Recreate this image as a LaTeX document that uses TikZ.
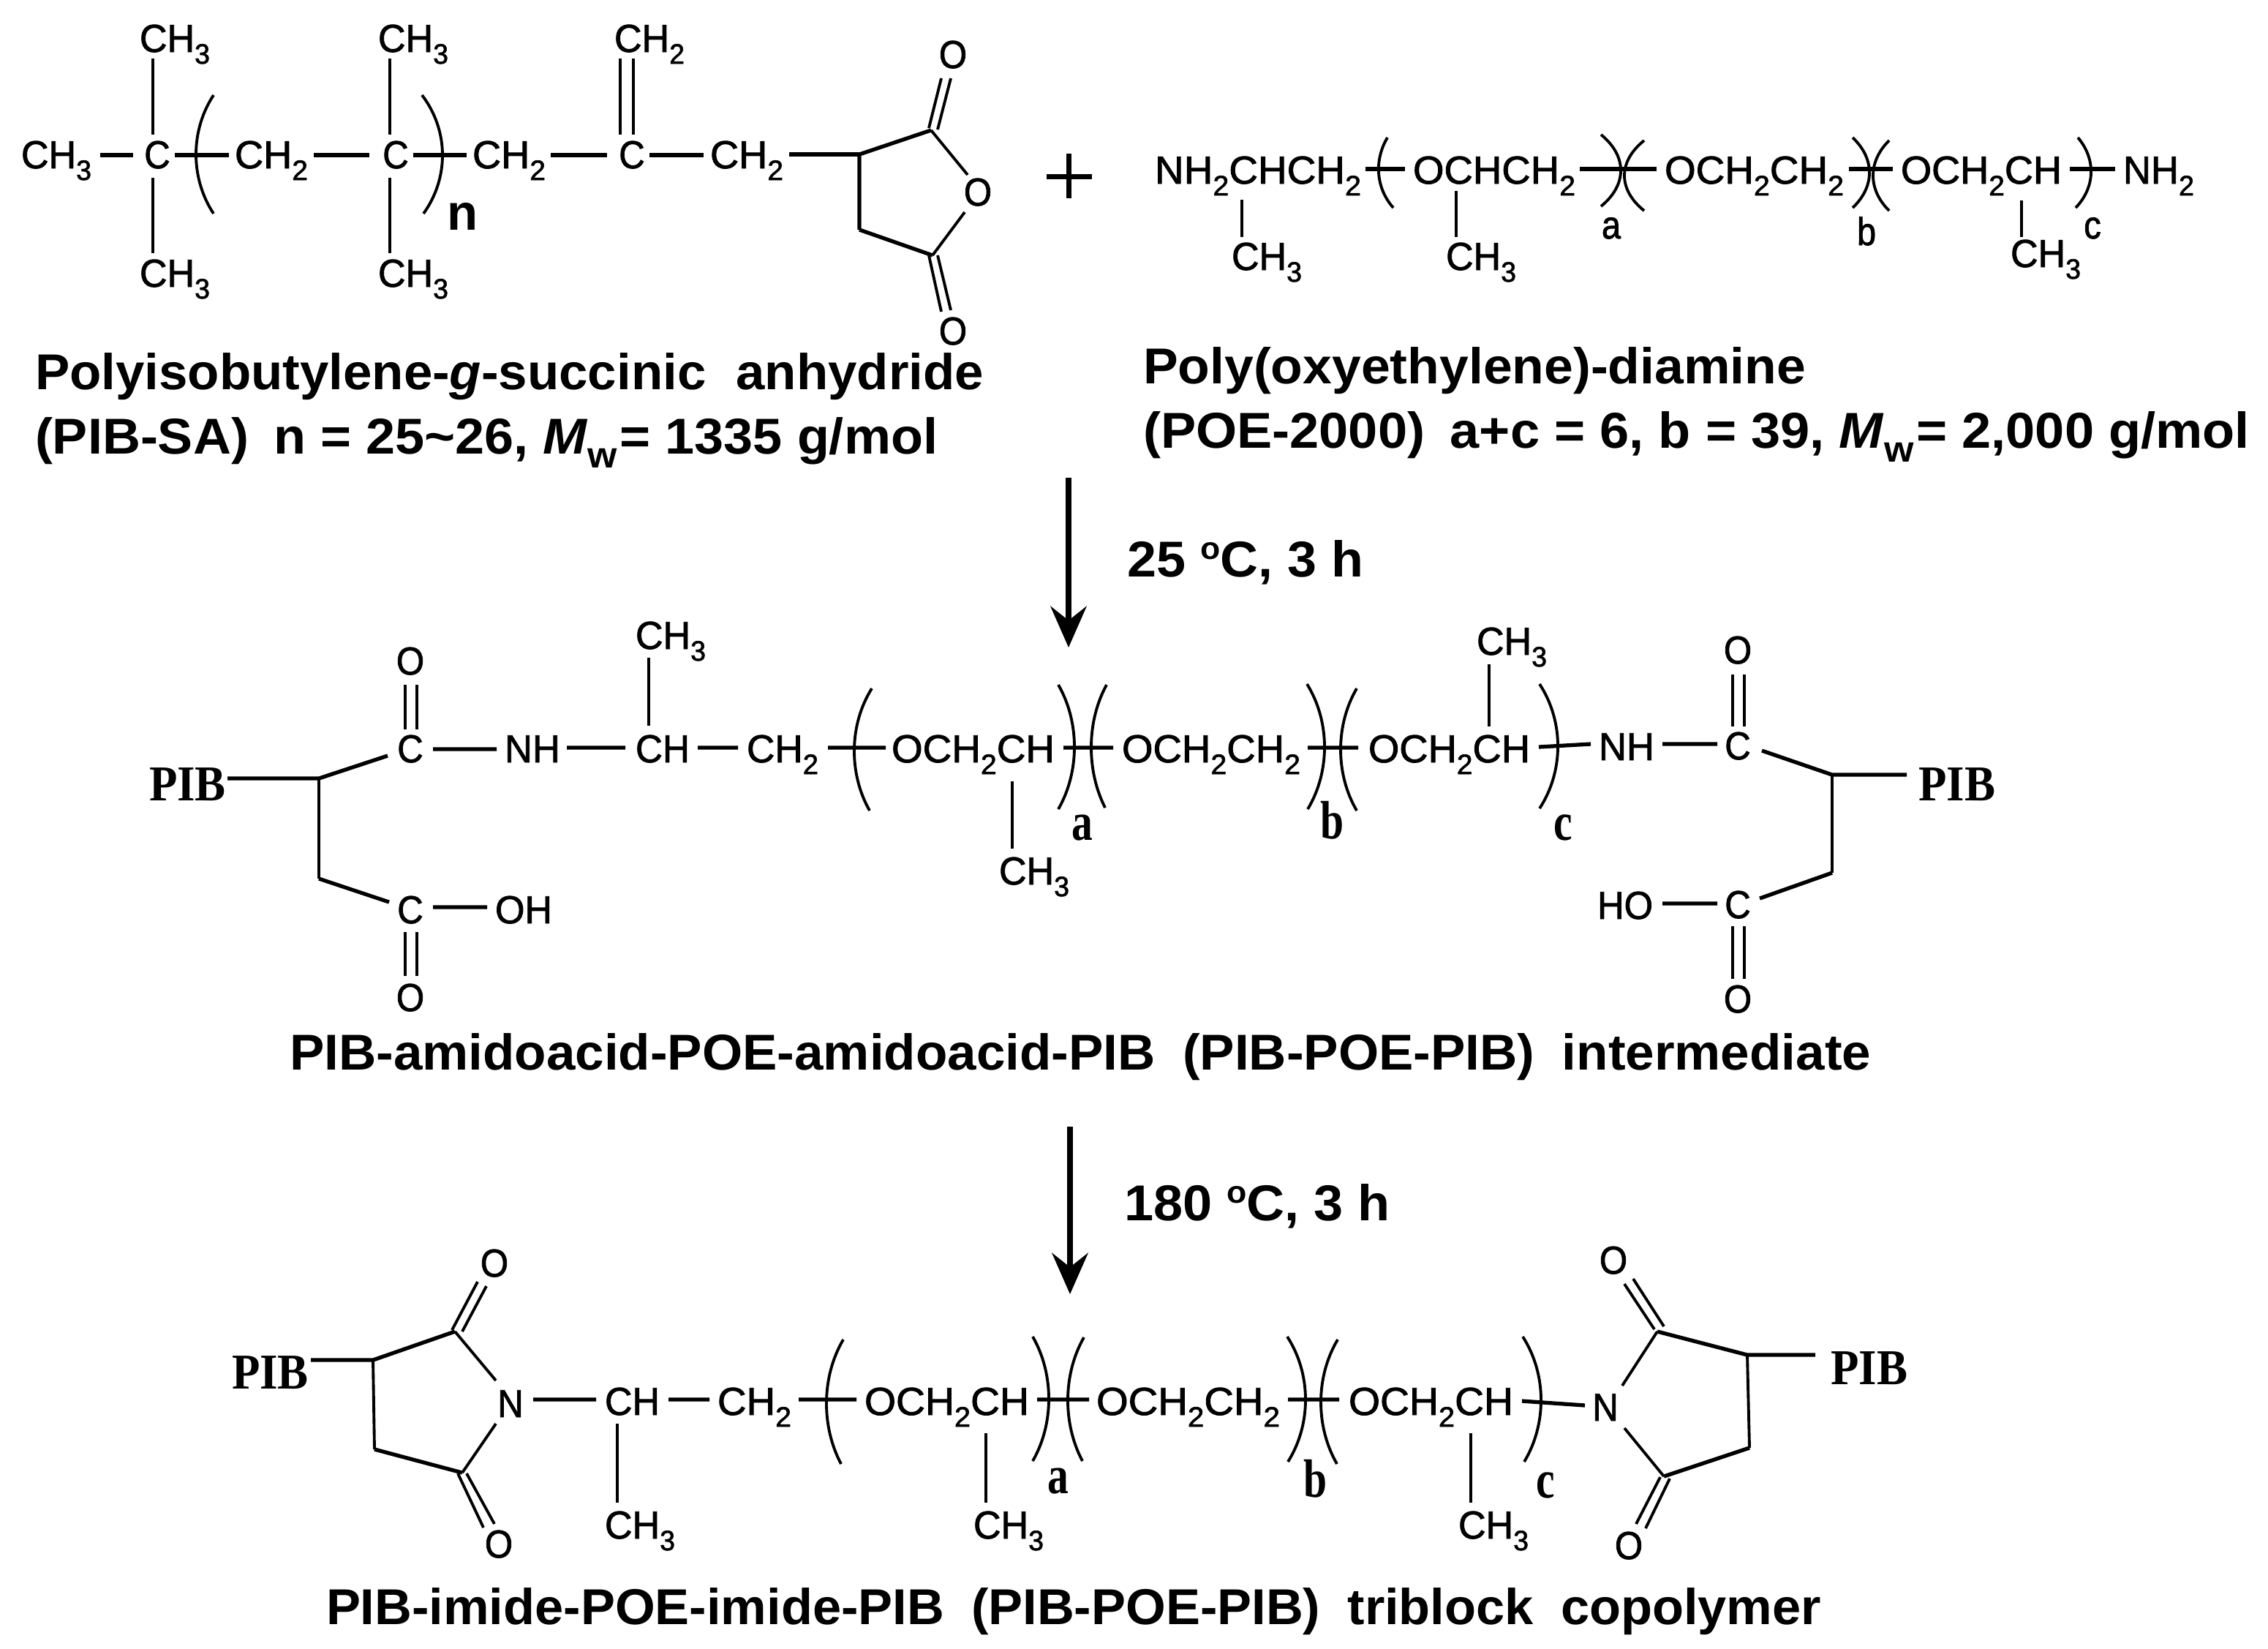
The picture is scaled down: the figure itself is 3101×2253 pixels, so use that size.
\documentclass[tikz,border=0pt]{standalone}
\usepackage{fontspec}
\usepackage{graphicx}
\usetikzlibrary{arrows.meta}
\setmainfont{Liberation Sans}
\newfontface\chemface{Liberation Sans}[FakeBold=1.6]
\newfontface\serifface{Liberation Serif Bold}
\newdimen\pxu \pxu=0.01cm
\newcommand\sbs[1]{\raisebox{-0.3em}{\scalebox{0.72}{#1}}}
\newcommand\Mw{\textit{M}\raisebox{-0.28em}{\scalebox{0.72}{w}}}
\newcommand\degc{\raisebox{0.34em}{\scalebox{0.62}{o}}C}
% fitted text: name, left x, baseline y, width, text
\newcommand\T[5]{\node[chem,anchor=base west] (#1) at (#2,#3) {\resizebox{#4\pxu}{\height}{#5}};}
\newcommand\Cp[5]{\node[capt,anchor=base west] (#1) at (#2,#3) {\resizebox{#4\pxu}{\height}{#5}};}
% centred text: name, centre x, baseline y, text
\newcommand\A[4]{\node[chem,anchor=base] (#1) at (#2,#3) {\scalebox{0.92}[1]{#4}};}
\newcommand\Me[3]{\T{#1}{#2}{#3}{96}{CH\sbs{3}}}
\newcommand\Pb[3]{\node[serifb,anchor=base west] (#1) at (#2,#3) {\resizebox{105\pxu}{\height}{PIB}};}
\newcommand\Sl[4]{\node[serifl,anchor=base] (#1) at (#2,#3) {\scalebox{0.78}[1]{#4}};}
\newcommand\Sn[4]{\node[chem,anchor=base] (#1) at (#2,#3) {\scalebox{0.88}[1]{#4}};}
% bracket: x1 y1 x2 y2 bulge-x
\newcommand\Br[5]{\draw[brk] (#1,#2) .. controls ({#5+(#5-#1+#5-#3)/6},{#2+(#4-#2)*0.3}) and ({#5+(#5-#1+#5-#3)/6},{#2+(#4-#2)*0.7}) .. (#3,#4);}
\tikzset{
  chem/.style={inner sep=0pt,outer sep=0pt,font=\chemface\fontsize{15.2}{18}\selectfont},
  capt/.style={inner sep=0pt,outer sep=0pt,font=\bfseries\fontsize{19.6}{23}\selectfont},
  serifb/.style={inner sep=0pt,outer sep=0pt,font=\serifface\fontsize{19.5}{22}\selectfont},
  serifl/.style={inner sep=0pt,outer sep=0pt,font=\serifface\fontsize{21}{24}\selectfont},
  bond/.style={line width=1.5pt,black},
  thin bond/.style={line width=1.1pt,black},
  brk/.style={line width=1.1pt,black},
  rxn/.style={line width=2.2pt,black,-{Stealth[length=16pt,width=14pt,inset=5.5pt]}}
}
\begin{document}
\begin{tikzpicture}[x=0.01cm,y=-0.01cm]
\useasboundingbox (0,0) rectangle (3101,2253);

%% ---------- PIB-SA ----------
\Me{ta1}{191}{71}
\Me{ta2}{517}{71}
\T{ta3}{840}{71}{96}{CH\sbs{2}}
\Me{ta4}{29}{230}
\A{ta5}{215}{230}{C}
\T{ta6}{321}{230}{100}{CH\sbs{2}}
\A{ta7}{541}{230}{C}
\T{ta8}{646}{230}{100}{CH\sbs{2}}
\A{ta9}{864}{230}{C}
\T{ta10}{971}{230}{100}{CH\sbs{2}}
\Me{ta11}{191}{392}
\Me{ta12}{517}{392}
\node[capt,anchor=base] (tan) at (633,314) {n};
\A{tao}{1337}{281}{O}
\A{tao1}{1303}{93}{O}
\A{tao2}{1303}{471}{O}
\draw[thin bond] (209,80)--(209,184) (209,243)--(209,346) (533,80)--(533,184) (533,243)--(533,346);
\draw[thin bond] (848,80)--(848,184) (866,80)--(866,184);
\draw[bond] (137,212)--(182,212) (239,212)--(313,212) (429,212)--(505,212) (565,212)--(638,212) (753,212)--(830,212) (888,212)--(962,212) (1079,211)--(1175,211);
\draw[bond] (1175,314)--(1175,211)--(1273,178);
\draw[thin bond] (1273,178)--(1323,239) (1319,290)--(1275,349);
\draw[bond] (1275,349)--(1175,314);
\draw[thin bond] (1270,175)--(1287,107) (1282,177)--(1300,107) (1270,349)--(1287,426) (1282,349)--(1300,424);
\Br{292}{130}{292}{292}{268}
\Br{577}{130}{579}{292}{605}
\draw[line width=2pt] (1431,241)--(1493,241) (1461,210)--(1461,271);

\Cp{c1}{48}{532}{1297}{Polyisobutylene-\textit{g}-succinic\hspace{0.3em} anhydride}
\Cp{c2}{48}{620}{1234}{(PIB-SA)\hspace{0.2em} n = 25\textasciitilde 26, \Mw\hspace{0.05em}= 1335 g/mol}

%% ---------- POE-2000 ----------
\T{tb1}{1579}{251}{282}{NH\sbs{2}CHCH\sbs{2}}
\T{tb2}{1932}{251}{222}{OCHCH\sbs{2}}
\T{tb3}{2276}{251}{245}{OCH\sbs{2}CH\sbs{2}}
\T{tb4}{2599}{251}{220}{OCH\sbs{2}CH}
\T{tb5}{2903}{251}{97}{NH\sbs{2}}
\Me{tb6}{1684}{369}
\Me{tb7}{1977}{369}
\Me{tb8}{2749}{365}
\Sn{tb9}{2203}{326}{a}
\Sn{tb10}{2552}{335}{b}
\Sn{tb11}{2861}{326}{c}
\draw[bond] (1867,231)--(1921,231) (2160,231)--(2265,231) (2528,231)--(2588,231) (2830,231)--(2892,231);
\draw[thin bond] (1698,273)--(1698,324) (1991,261)--(1991,324) (2764,274)--(2764,324);
\Br{1897}{188}{1905}{284}{1885}
\Br{2189}{184}{2189}{282}{2216}
\Br{2248}{192}{2248}{288}{2221}
\Br{2533}{188}{2533}{284}{2556}
\Br{2583}{192}{2583}{288}{2561}
\Br{2841}{188}{2838}{284}{2859}

\Cp{c3}{1563}{524}{906}{Poly(oxyethylene)-diamine}
\Cp{c4}{1563}{612}{1513}{(POE-2000)\hspace{0.2em} a+c = 6, b = 39, \Mw\hspace{0.05em}= 2,000 g/mol}

%% ---------- arrow 1 ----------
\coordinate (a1s) at (1461,653);
\coordinate (a1e) at (1461,885);
\draw[rxn] (a1s)--(a1e);
\Cp{r1}{1541}{788}{323}{25 \degc, 3 h}

%% ---------- intermediate ----------
\A{ma1}{561}{922}{O}
\A{ma2}{561}{1042}{C}
\T{ma3}{690}{1042}{76}{NH}
\T{ma4}{869}{1042}{74}{CH}
\Me{ma5}{869}{887}
\T{ma6}{1021}{1042}{98}{CH\sbs{2}}
\T{ma7}{1219}{1042}{223}{OCH\sbs{2}CH}
\Me{ma8}{1366}{1209}
\T{ma9}{1534}{1042}{244}{OCH\sbs{2}CH\sbs{2}}
\T{ma10}{1871}{1042}{221}{OCH\sbs{2}CH}
\Me{ma11}{2019}{895}
\T{ma12}{2186}{1039}{76}{NH}
\A{ma13}{2376}{1038}{C}
\A{ma14}{2376}{907}{O}
\Pb{ma15}{204}{1094}
\Pb{ma16}{2623}{1094}
\A{ma17}{561}{1262}{C}
\T{ma18}{677}{1262}{78}{OH}
\A{ma19}{561}{1382}{O}
\A{ma20}{2376}{1255}{C}
\T{ma21}{2184}{1256}{76}{HO}
\A{ma22}{2376}{1384}{O}
\Sl{ma23}{1480}{1148}{a}
\Sl{ma24}{1821}{1146}{b}
\Sl{ma25}{2137}{1148}{c}
\draw[thin bond] (554,936)--(554,997) (570,936)--(570,997) (887,899)--(887,992) (1384,1068)--(1384,1160) (2036,908)--(2036,993) (2369,922)--(2369,993) (2385,922)--(2385,993) (554,1274)--(554,1334) (570,1274)--(570,1334) (2369,1266)--(2369,1338) (2385,1266)--(2385,1338) (436,1064)--(436,1201) (2505,1059)--(2505,1193);
\draw[bond] (592,1024)--(679,1024) (775,1022)--(855,1022) (954,1022)--(1009,1022) (1132,1022)--(1211,1022) (1454,1022)--(1522,1022) (1788,1022)--(1857,1022) (2104,1021)--(2175,1017) (2273,1017)--(2348,1017);
\draw[bond] (311,1064)--(436,1064)--(530,1033) (436,1201)--(532,1233) (592,1240)--(666,1240);
\draw[bond] (2409,1026)--(2505,1059)--(2607,1059) (2505,1193)--(2406,1228) (2273,1235)--(2348,1235);
\Br{1192}{941}{1189}{1108}{1168}
\Br{1447}{936}{1447}{1106}{1469}
\Br{1513}{936}{1511}{1104}{1492}
\Br{1787}{935}{1788}{1106}{1811}
\Br{1855}{941}{1855}{1108}{1833}
\Br{2105}{935}{2105}{1105}{2130}

\Cp{c5}{396}{1462}{2162}{PIB-amidoacid-POE-amidoacid-PIB\hspace{0.25em} (PIB-POE-PIB)\hspace{0.25em} intermediate}

%% ---------- arrow 2 ----------
\coordinate (a2s) at (1463,1540);
\coordinate (a2e) at (1463,1769);
\draw[rxn] (a2s)--(a2e);
\Cp{r2}{1537}{1668}{364}{180 \degc, 3 h}

%% ---------- triblock ----------
\Pb{ba1}{317}{1898}
\Pb{ba2}{2503}{1892}
\A{ba3}{698}{1937}{N}
\A{ba4}{2195}{1942}{N}
\A{ba5}{676}{1745}{O}
\A{ba6}{682}{2129}{O}
\A{ba7}{2206}{1741}{O}
\A{ba8}{2227}{2131}{O}
\T{ba9}{827}{1934}{75}{CH}
\Me{ba10}{827}{2103}
\T{ba11}{981}{1934}{101}{CH\sbs{2}}
\T{ba12}{1182}{1934}{225}{OCH\sbs{2}CH}
\Me{ba13}{1331}{2103}
\T{ba14}{1499}{1934}{251}{OCH\sbs{2}CH\sbs{2}}
\T{ba15}{1844}{1934}{225}{OCH\sbs{2}CH}
\Me{ba16}{1994}{2103}
\Sl{ba17}{1447}{2041}{a}
\Sl{ba18}{1798}{2046}{b}
\Sl{ba19}{2113}{2047}{c}
\draw[bond] (425,1859)--(510,1859)--(622,1820) (632,2013)--(512,1981);
\draw[thin bond] (510,1859)--(512,1981) (622,1820)--(678,1887) (678,1946)--(632,2013);
\draw[thin bond] (618,1818)--(653,1752) (632,1820)--(665,1758) (626,2014)--(661,2088) (638,2014)--(676,2083);
\draw[bond] (729,1913)--(815,1913) (914,1913)--(970,1913) (1092,1913)--(1171,1913) (1418,1913)--(1489,1913) (1761,1913)--(1831,1913) (2081,1915)--(2167,1921);
\draw[thin bond] (844,1946)--(844,2054) (1348,1959)--(1348,2054) (2011,1959)--(2011,2054);
\draw[thin bond] (2218,1894)--(2266,1820) (2389,1852)--(2392,1979) (2221,1952)--(2275,2018);
\draw[bond] (2266,1820)--(2389,1852)--(2482,1852) (2392,1979)--(2275,2018);
\draw[thin bond] (2221,1755)--(2262,1817) (2233,1748)--(2275,1813) (2270,2019)--(2237,2083) (2283,2021)--(2250,2089);
\Br{1153}{1831}{1150}{2001}{1130}
\Br{1412}{1827}{1412}{1997}{1434}
\Br{1482}{1828}{1480}{1997}{1460}
\Br{1760}{1827}{1761}{1998}{1785}
\Br{1829}{1831}{1828}{2001}{1806}
\Br{2082}{1827}{2084}{1998}{2107}

\Cp{c6}{446}{2220}{2044}{PIB-imide-POE-imide-PIB\hspace{0.25em} (PIB-POE-PIB)\hspace{0.25em} triblock\hspace{0.25em} copolymer}
\end{tikzpicture}
\end{document}
